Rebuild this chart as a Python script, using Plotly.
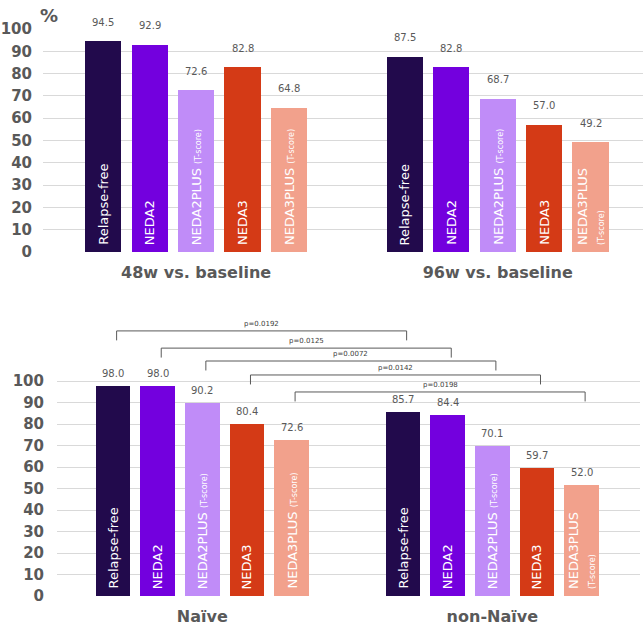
import plotly.graph_objects as go

# ---------------- data ----------------
measures = ["Relapse-free", "NEDA2", "NEDA2PLUS", "NEDA3", "NEDA3PLUS"]
tscore_flag = [False, False, True, False, True]
colors = ["#220a4c", "#7300de", "#c08cf8", "#d43a16", "#f2a18c"]

top_groups = ["48w vs. baseline", "96w vs. baseline"]
top_48w = [94.5, 92.9, 72.6, 82.8, 64.8]
top_96w = [87.5, 82.8, 68.7, 57.0, 49.2]

bottom_groups = ["Naïve", "non-Naïve"]
naive = [98.0, 98.0, 90.2, 80.4, 72.6]
non_naive = [85.7, 84.4, 70.1, 59.7, 52.0]

p_values = ["p=0.0192", "p=0.0125", "p=0.0072", "p=0.0142", "p=0.0198"]

y_ticks = [0, 10, 20, 30, 40, 50, 60, 70, 80, 90, 100]

# ---------------- layout helpers ----------------
GREY = "#595959"
FONT = "DejaVu Sans"
W, H = 644, 627
bar_w = 0.78
group_offset = 6.5
pos0 = [i for i in range(len(measures))]
pos1 = [i + group_offset for i in range(len(measures))]
group_centers = [sum(pos0) / len(pos0), sum(pos1) / len(pos1)]

fig = go.Figure()
annotations = []
shapes = []


def inner_label(name, tflag, value):
    if not tflag:
        return name
    small = "<span style='font-size:8px'>(T-score)</span>"
    if value < 60:
        return name + "<br>" + small
    return name + " " + small


def add_panel(series_list, xref, yref, label_shift):
    for vals, pos in zip(series_list, [pos0, pos1]):
        fig.add_trace(go.Bar(
            x=pos, y=vals, width=bar_w,
            marker=dict(color=colors, line=dict(width=0)),
            xaxis=xref, yaxis=yref, showlegend=False, hoverinfo="skip",
        ))
        for x, v, name, tf in zip(pos, vals, measures, tscore_flag):
            annotations.append(dict(
                x=x, y=v, xref=xref, yref=yref, text=f"{v:.1f}",
                showarrow=False, yanchor="middle", yshift=label_shift,
                font=dict(family=FONT, size=10, color=GREY),
            ))
            annotations.append(dict(
                x=x, y=0, xref=xref, yref=yref, text=inner_label(name, tf, v),
                showarrow=False, textangle=-90, yanchor="bottom", xanchor="center",
                align="left", yshift=5,
                font=dict(family=FONT, size=13, color="white"),
            ))


add_panel([top_48w, top_96w], "x", "y", 19)
add_panel([naive, non_naive], "x2", "y2", 12)

# significance brackets (bottom panel)
bracket_tops = [123.3, 115.3, 109.3, 102.8, 94.9]
tick_drop = 4.4
for i, (p, top) in enumerate(zip(p_values, bracket_tops)):
    xl = pos0[i] + 0.08
    xr = pos1[i] + 0.08
    shapes.append(dict(
        type="path", xref="x2", yref="y2",
        path=f"M {xl},{top - tick_drop} L {xl},{top} L {xr},{top} L {xr},{top - tick_drop}",
        line=dict(color=GREY, width=1),
    ))
    annotations.append(dict(
        x=(xl + xr) / 2, y=top, xref="x2", yref="y2", text=p,
        showarrow=False, yanchor="bottom", yshift=1,
        font=dict(family=FONT, size=7, color="#404040"),
    ))

# "%" unit label
annotations.append(dict(
    x=38 / W, y=1 - 3 / H, xref="paper", yref="paper", text="%",
    showarrow=False, xanchor="left", yanchor="top",
    font=dict(family=FONT, size=18, color=GREY, weight="bold"),
))

yaxis_common = dict(
    tickvals=y_ticks, showgrid=True, gridcolor="#d9d9d9", gridwidth=1,
    zeroline=False, showline=False, ticks="outside", tickcolor="rgba(0,0,0,0)",
    tickfont=dict(family=FONT, size=15, color=GREY, weight="bold"),
    automargin=False,
)
xaxis_common = dict(
    showgrid=False, zeroline=False, showline=False, ticks="outside",
    tickcolor="rgba(0,0,0,0)", ticklen=6, automargin=False,
    tickfont=dict(family=FONT, size=16, color=GREY, weight="bold"),
)

fig.update_layout(
    width=W, height=H, autosize=False, margin=dict(l=0, r=0, t=0, b=0, pad=0),
    paper_bgcolor="white", plot_bgcolor="white",
    bargap=0, barmode="overlay",
    xaxis=dict(xaxis_common, domain=[43 / W, 643 / W], range=[-1.30, 11.63],
               tickvals=group_centers, ticktext=top_groups, anchor="y"),
    yaxis=dict(yaxis_common, domain=[1 - 252 / H, 1 - 29 / H], range=[0, 100],
               ticklen=7, anchor="x"),
    xaxis2=dict(xaxis_common, domain=[57 / W, 640 / W], range=[-1.256, 11.81],
                tickvals=group_centers, ticktext=bottom_groups, anchor="y2"),
    yaxis2=dict(yaxis_common, domain=[1 - 596 / H, 1 - 316.5 / H], range=[0, 130],
                ticklen=9, anchor="x2"),
    annotations=annotations, shapes=shapes,
)

fig.write_html("out.html",
               config={"displayModeBar": False},
               post_script="document.body.style.margin='0';document.body.style.overflow='hidden';")
